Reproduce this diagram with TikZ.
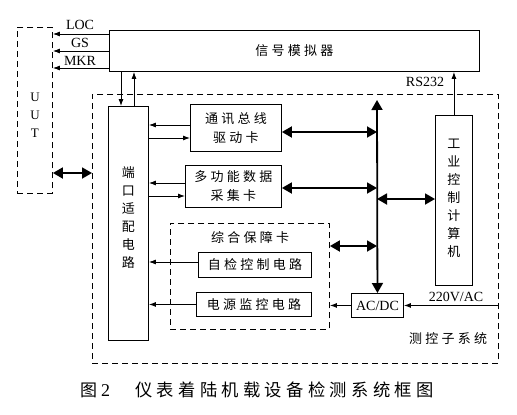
\documentclass[tikz,border=0pt]{standalone}
\usepackage{fontspec}
\setmainfont{Liberation Serif}
\newfontfamily\cjk[LetterSpace=25]{Noto Sans CJK SC}
\newfontfamily\cjkv{Noto Sans CJK SC}
\usetikzlibrary{arrows.meta}

\tikzset{
    box/.style={draw,line width=0.9pt,anchor=north west,inner sep=0pt,align=center,
        font=\cjk\fontsize{13}{19}\selectfont},
    dbox/.style={box,dash pattern=on 6pt off 4pt},
    vtext/.style={align=center,inner sep=0pt,font=\cjkv\fontsize{13}{18}\selectfont},
    lbl/.style={inner sep=0pt,font=\fontsize{14}{16}\selectfont},
    sarr/.style={line width=0.9pt,-{Latex[length=7pt,width=5pt]}},
    barr/.style={line width=1.8pt,{Triangle[length=10pt,width=11pt]}-{Triangle[length=10pt,width=11pt]}}
}

\begin{document}
\begin{tikzpicture}[x=1pt,y=-1pt]
    \useasboundingbox (0,0) rectangle (517,415);

    % boxes
    \node[dbox,minimum width=35pt,minimum height=166pt] (uut) at (17,27) {};
    \node[vtext,font=\fontsize{13}{18}\selectfont] (uuttxt) at (uut.center |- 0,115) {U\\U\\T};
    \node[box,minimum width=370pt,minimum height=41pt] (sim) at (109,30) {信号模拟器};
    \node[dbox,minimum width=406pt,minimum height=269pt] (sub) at (92,94) {};
    \node[box,minimum width=40pt,minimum height=234pt] (port) at (108,106) {};
    \node[vtext] (porttxt) at (port.center |- 0,218) {端\\口\\适\\配\\电\\路};
    \node[box,minimum width=91pt,minimum height=47pt] (comm) at (190,104) {通讯总线\\驱动卡};
    \node[box,minimum width=96pt,minimum height=42pt] (daq) at (185,165) {多功能数据\\采集卡};
    \node[box,minimum width=37pt,minimum height=170pt] (ipc) at (435,115) {};
    \node[vtext] (ipctxt) at (ipc.center |- 0,198) {工\\业\\控\\制\\计\\算\\机};
    \node[dbox,minimum width=159pt,minimum height=106pt] (zhbz) at (170,223) {};
    \node[box,minimum width=113pt,minimum height=25pt] (selfchk) at (198,252) {自检控制电路};
    \node[box,minimum width=115pt,minimum height=24pt] (pwrmon) at (196,292) {电源监控电路};
    \node[box,minimum width=52pt,minimum height=24pt,font=\fontsize{14}{16}\selectfont] (acdc) at (351,293) {AC/DC};
    \coordinate (bustop) at (377,100);

    % labels
    \node[lbl] (loc) at (80,25) {LOC};
    \node[lbl] (gs) at (80,43) {GS};
    \node[lbl] (mkr) at (80,61) {MKR};
    \node[lbl] (rs232) at (425,82) {RS232};
    \node[lbl] (ac220) at (456,297) {220V/AC};
    \node[inner sep=0pt,font=\cjk\fontsize{13}{16}\selectfont] (zhbztxt) at (250,238) {综合保障卡};
    \node[inner sep=0pt,font=\cjk\fontsize{13}{16}\selectfont] (subtxt) at (448,339) {测控子系统};

    % connectors
    \draw[sarr] (sim.west |- 0,34) -- (uut.east |- 0,34);
    \draw[sarr] (sim.west |- 0,51) -- (uut.east |- 0,51);
    \draw[sarr] (sim.west |- 0,68) -- (uut.east |- 0,68);
    \draw[sarr] (sim.south -| 121,0) -- (port.north -| 121,0);
    \draw[sarr] (port.north -| 134,0) -- (sim.south -| 134,0);
    \draw[barr] (uut.east |- 0,173) -- (sub.west |- 0,173);
    \draw[sarr] (comm.west |- 0,125) -- (port.east |- 0,125);
    \draw[sarr] (port.east |- 0,138) -- (comm.west |- 0,138);
    \draw[sarr] (daq.west |- 0,183) -- (port.east |- 0,183);
    \draw[sarr] (port.east |- 0,196) -- (daq.west |- 0,196);
    \draw[sarr] (selfchk.west |- 0,262) -- (port.east |- 0,262);
    \draw[sarr] (pwrmon.west) -- (pwrmon.west -| port.east);
    \draw[barr] (bustop) -- (acdc.north);
    \draw[barr] (comm.east |- 0,132) -- (bustop |- 0,132);
    \draw[barr] (daq.east |- 0,188) -- (bustop |- 0,188);
    \draw[barr] (bustop |- 0,199) -- (ipc.west |- 0,199);
    \draw[barr] (zhbz.east |- 0,246) -- (bustop |- 0,246);
    \draw[sarr] (ipc.north) -- (ipc.north |- sim.south);
    \draw[sarr] (acdc.west) -- (acdc.west -| zhbz.east);
    \draw[sarr] (sub.east |- acdc.east) -- (acdc.east);

    % caption
    \node[inner sep=0pt,anchor=west] (capno) at (80,390)
        {{\cjkv\fontsize{17}{20}\selectfont 图}\hspace{4pt}{\fontsize{18}{20}\selectfont 2}};
    \node[inner sep=0pt,anchor=west,font=\cjk\fontsize{17.3}{20}\selectfont] (cap) at (135,390)
        {仪表着陆机载设备检测系统框图};
\end{tikzpicture}
\end{document}
